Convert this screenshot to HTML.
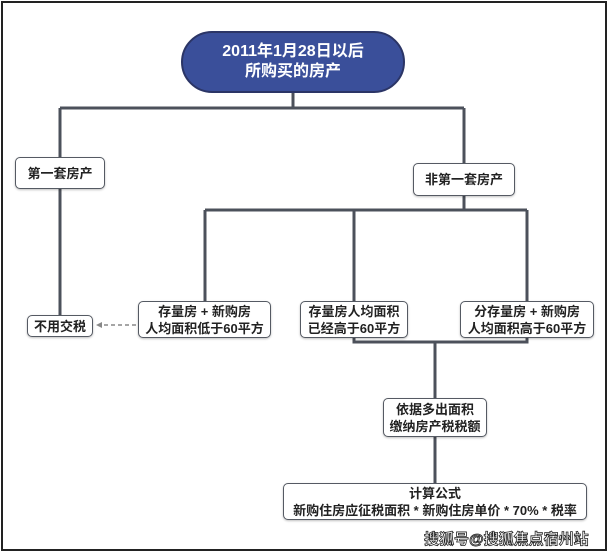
<!DOCTYPE html>
<html><head><meta charset="utf-8"><style>
body{margin:0;width:608px;height:552px;background:#fff;position:relative;overflow:hidden;font-family:"Liberation Sans","Noto Sans CJK SC",sans-serif;}
.frame{position:absolute;left:1px;top:1px;width:602px;height:546px;border:2px solid #222;}
.b{position:absolute;box-sizing:border-box;border:1.5px solid #555a63;border-radius:5px;background:#fff;color:#222;font-size:13px;font-weight:bold;display:flex;align-items:center;justify-content:center;text-align:center;line-height:17px;box-shadow:0 1px 2px rgba(0,0,0,.25);}
.l{position:absolute;background:#4c515b;}
</style></head><body>
<div class="frame"></div>
<svg width="608" height="552" style="position:absolute;left:0;top:0">
<g stroke="#4c515b" stroke-width="3" fill="none">
<path d="M293 93V108M60 108H464M60 108V158M464 108V164M464 196V210M205 210H527M205 210V301M354 210V301M527 210V301M60 189V315M354 338V342H527V338M435 342V398M435 437V483"/>
</g>
<path d="M136 325H100" stroke="#888" stroke-width="1.5" stroke-dasharray="4,3"/>
<path d="M96 325l6 -3v6z" fill="#888"/>
</svg>
<div style="position:absolute;left:181px;top:31px;width:224px;height:62px;border-radius:31px;background:#3a4f9a;border:2px solid #2b3566;box-sizing:border-box;color:#fff;font-weight:bold;font-size:16px;line-height:20px;display:flex;align-items:center;justify-content:center;text-align:center;">2011年1月28日以后<br>所购买的房产</div>
<div class="b" style="left:15px;top:157px;width:90px;height:32px">第一套房产</div>
<div class="b" style="left:413px;top:163px;width:102px;height:33px">非第一套房产</div>
<div class="b" style="left:27px;top:315px;width:66px;height:22px">不用交税</div>
<div class="b" style="left:138px;top:301px;width:133px;height:37px">存量房 + 新购房<br>人均面积低于60平方</div>
<div class="b" style="left:300px;top:301px;width:108px;height:37px">存量房人均面积<br>已经高于60平方</div>
<div class="b" style="left:460px;top:301px;width:134px;height:37px">分存量房 + 新购房<br>人均面积高于60平方</div>
<div class="b" style="left:383px;top:398px;width:104px;height:39px">依据多出面积<br>缴纳房产税税额</div>
<div class="b" style="left:283px;top:483px;width:304px;height:37px">计算公式<br>新购住房应征税面积 * 新购住房单价 * 70% * 税率</div>
<div style="position:absolute;left:424px;top:528px;font-size:15px;font-weight:bold;color:#fff;-webkit-text-stroke:0.8px #222;white-space:nowrap">搜狐号@搜狐焦点宿州站</div>
</body></html>
